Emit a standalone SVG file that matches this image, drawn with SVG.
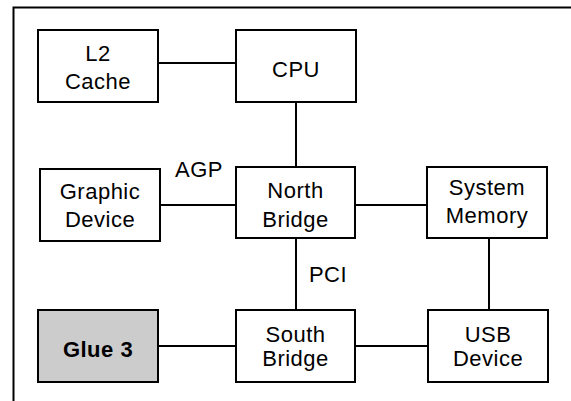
<svg xmlns="http://www.w3.org/2000/svg" width="571" height="401" viewBox="0 0 571 401">
<style>
.box{fill:#ffffff;stroke:#000000;stroke-width:2}
.glue{fill:#cccccc;stroke:#000000;stroke-width:2}
.lbl{font-family:"Liberation Sans",Arial,Helvetica,sans-serif;font-size:22px;letter-spacing:0.5px;fill:#000000;text-anchor:middle}
.bold{font-weight:bold}
.conn{stroke:#000000;stroke-width:2;fill:none}
</style>
<rect width="571" height="401" fill="#ffffff"/>
<path d="M13.5,401 V7.5 H571" class="conn"/>
<g id="connectors">
<line class="conn" x1="158" y1="63" x2="236" y2="63"/>
<line class="conn" x1="296" y1="102" x2="296" y2="167"/>
<line class="conn" x1="160" y1="205" x2="236" y2="205"/>
<line class="conn" x1="355" y1="205" x2="427" y2="205"/>
<line class="conn" x1="296" y1="238" x2="296" y2="310"/>
<line class="conn" x1="489" y1="238" x2="489" y2="310"/>
<line class="conn" x1="158" y1="346" x2="236" y2="346"/>
<line class="conn" x1="355" y1="346" x2="428" y2="346"/>
<text class="lbl" x="199" y="177">AGP</text>
<text class="lbl" x="328" y="282">PCI</text>
</g>
<g id="l2cache">
<rect class="box" x="38" y="30" width="120" height="72"/>
<text class="lbl" x="98" y="61">L2</text>
<text class="lbl" x="98" y="89">Cache</text>
</g>
<g id="cpu">
<rect class="box" x="236" y="30" width="120" height="72"/>
<text class="lbl" x="296" y="77">CPU</text>
</g>
<g id="graphic">
<rect class="box" x="40" y="169" width="120" height="72"/>
<text class="lbl" x="100" y="199">Graphic</text>
<text class="lbl" x="100" y="227">Device</text>
</g>
<g id="northbridge">
<rect class="box" x="236" y="167" width="119" height="71"/>
<text class="lbl" x="295.5" y="198">North</text>
<text class="lbl" x="295.5" y="227">Bridge</text>
</g>
<g id="sysmem">
<rect class="box" x="427" y="167" width="120" height="71"/>
<text class="lbl" x="487" y="195">System</text>
<text class="lbl" x="487" y="223">Memory</text>
</g>
<g id="glue3">
<rect class="glue" x="38" y="310" width="120" height="72"/>
<text class="lbl bold" x="98" y="357">Glue 3</text>
</g>
<g id="southbridge">
<rect class="box" x="236" y="310" width="119" height="72"/>
<text class="lbl" x="295.5" y="342">South</text>
<text class="lbl" x="295.5" y="366">Bridge</text>
</g>
<g id="usb">
<rect class="box" x="428" y="310" width="120" height="72"/>
<text class="lbl" x="488" y="342">USB</text>
<text class="lbl" x="488" y="366">Device</text>
</g>
</svg>
